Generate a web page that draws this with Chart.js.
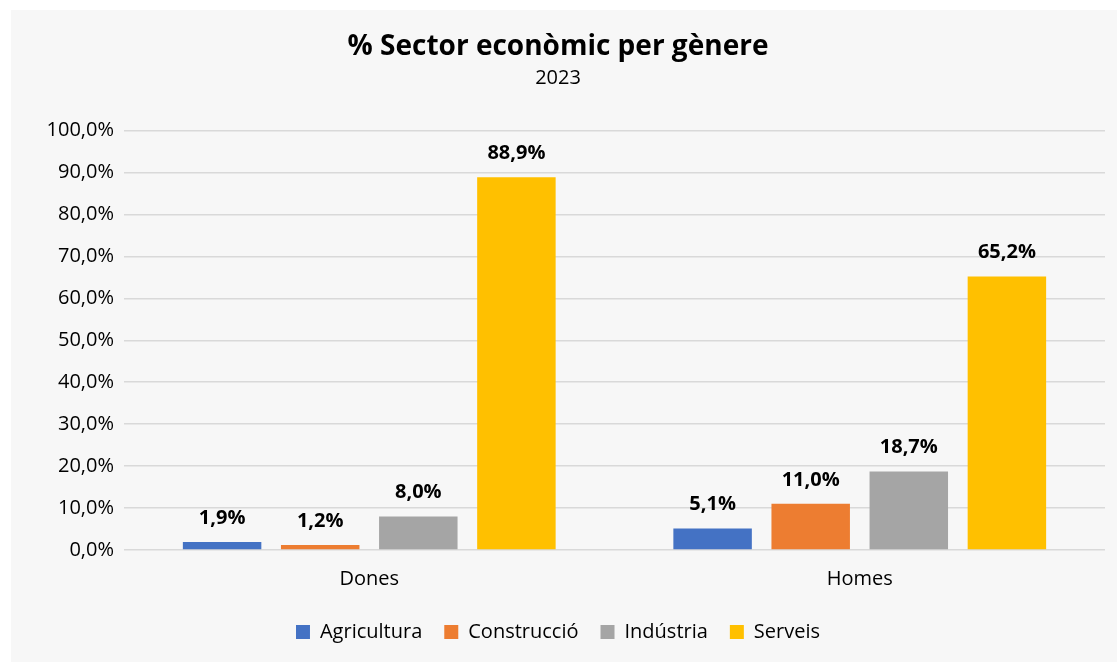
<!DOCTYPE html>
<html>
<head>
<meta charset="utf-8">
<script src="https://cdn.jsdelivr.net/npm/chart.js@4"></script>
<style>
  html, body { margin:0; padding:0; background:#fff; }
  #wrap { position:absolute; left:11px; top:10px; width:1106px; height:652px; background:#f7f7f7; }
</style>
</head>
<body>
<div id="wrap"><canvas id="chart" width="1106" height="652"></canvas></div>
<script>
/* ============================
   % Sector econòmic per gènere
============================ */
const categories = ['Dones', 'Homes'];
const sectors = ['Agricultura', 'Construcció', 'Indústria', 'Serveis'];
const agricultura = [1.9, 5.1];
const construccio = [1.2, 11.0];
const industria = [8.0, 18.7];
const serveis = [88.9, 65.2];
const colors = ['#4472c4', '#ed7d31', '#a5a5a5', '#ffc000'];

const FONT = '"Open Sans", sans-serif';
const fmt = v => v.toFixed(1).replace('.', ',') + '%';

// labels above bars
const barLabels = {
  id:'barLabels',
  afterDatasetsDraw(chart){
    const ctx = chart.ctx;
    ctx.save();
    ctx.font = 'bold 20px ' + FONT;
    ctx.fillStyle = '#000';
    ctx.textAlign = 'center';
    ctx.textBaseline = 'middle';
    chart.data.datasets.forEach((ds, i) => {
      chart.getDatasetMeta(i).data.forEach((bar, j) => {
        ctx.fillText(fmt(ds.data[j]), bar.x, bar.y - 24);
      });
    });
    ctx.restore();
  }
};

const series = [agricultura, construccio, industria, serveis];
new Chart(document.getElementById('chart'), {
  type:'bar',
  data:{
    labels: categories,
    datasets: sectors.map((s, i) => ({ label:s, data:series[i], backgroundColor:colors[i],
      barPercentage:0.8, categoryPercentage:0.8 }))
  },
  options:{
    responsive:false,
    animation:false,
    layout:{ padding:{ left:0, right:12, top:20, bottom:10 } },
    plugins:{
      title:{ display:true, text:'% Sector econòmic per gènere', color:'#000',
        font:{ family:FONT, size:28, weight:'bold' }, padding:{ top:0, bottom:3 } },
      subtitle:{ display:true, text:'2023', color:'#000',
        font:{ family:FONT, size:20 }, padding:{ top:0, bottom:40 } },
      legend:{ position:'bottom',
        labels:{ boxWidth:14, boxHeight:14, padding:22, color:'#000', font:{ family:FONT, size:20 } } },
      tooltip:{ enabled:false }
    },
    scales:{
      x:{
        grid:{ display:false },
        border:{ display:false },
        ticks:{ color:'#000', font:{ family:FONT, size:20 }, padding:9 }
      },
      y:{
        min:0, max:100,
        afterFit(scale){ scale.width = 113; },
        grid:{ color:'#d9d9d9', lineWidth:1.5, drawTicks:false },
        border:{ display:false },
        ticks:{ stepSize:10, color:'#000', padding:10, font:{ family:FONT, size:20 },
          callback: v => fmt(v) }
      }
    }
  },
  plugins:[barLabels]
});
</script>
</body>
</html>
